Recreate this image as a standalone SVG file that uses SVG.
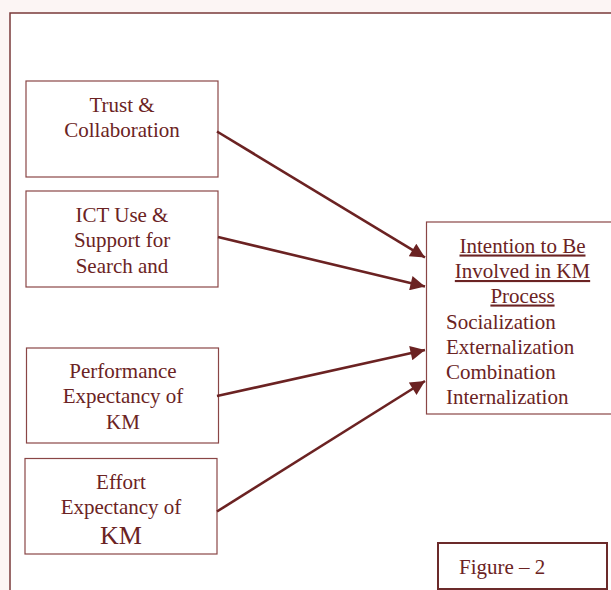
<svg xmlns="http://www.w3.org/2000/svg" width="611" height="590" viewBox="0 0 611 590">
<style>
.box{fill:#fff;stroke:#8a4646;stroke-width:1.2}
.t{font-family:"Liberation Serif","Times New Roman",serif;font-size:21px;fill:#6b2323}
.c{text-anchor:middle}
.u{text-decoration:underline}
.conn{stroke:#6b2222;stroke-width:2.6;fill:none;marker-end:url(#ah)}
</style>
<defs>
<marker id="ah" viewBox="0 0 10 10" refX="10" refY="5" markerWidth="6.8" markerHeight="5.6" markerUnits="strokeWidth" orient="auto">
<path d="M0,0 L10,5 L0,10 Z" fill="#6b2222"/>
</marker>
</defs>
<rect x="0" y="0" width="611" height="590" fill="#fcf5f4"/>
<rect x="10" y="13" width="620" height="600" fill="#fff" stroke="#7a3a3a" stroke-width="1.5"/>
<g id="n1">
<rect class="box" x="26" y="81" width="192" height="96"/>
<text class="t c" x="122" y="111.5">Trust &amp;</text>
<text class="t c" x="122" y="137">Collaboration</text>
</g>
<g id="n2">
<rect class="box" x="26" y="191" width="192" height="96"/>
<text class="t c" x="122" y="221.5">ICT Use &amp;</text>
<text class="t c" x="122" y="247">Support for</text>
<text class="t c" x="122" y="272.5">Search and</text>
</g>
<g id="n3">
<rect class="box" x="26.5" y="348" width="192" height="95"/>
<text class="t c" x="123" y="377.5">Performance</text>
<text class="t c" x="123" y="403">Expectancy of</text>
<text class="t c" x="123" y="428.5">KM</text>
</g>
<g id="n4">
<rect class="box" x="25" y="458.5" width="192" height="95.5"/>
<text class="t c" x="121" y="488.5">Effort</text>
<text class="t c" x="121" y="513.5">Expectancy of</text>
<text class="t c" x="121" y="544" style="font-size:26px">KM</text>
</g>
<g id="target">
<rect class="box" x="426.5" y="222" width="200" height="192"/>
<text class="t c u" x="522.5" y="252.5">Intention to Be</text>
<text class="t c u" x="522.5" y="278">Involved in KM</text>
<text class="t c u" x="522.5" y="302.5">Process</text>
<text class="t" x="446" y="328.5">Socialization</text>
<text class="t" x="446" y="353.5">Externalization</text>
<text class="t" x="446" y="378.5">Combination</text>
<text class="t" x="446" y="403.5">Internalization</text>
</g>
<g id="fig">
<rect x="438" y="543" width="169" height="46" fill="#fff" stroke="#6b2a2a" stroke-width="2"/>
<text class="t" x="459" y="574">Figure – 2</text>
</g>
<g id="connectors">
<line class="conn" x1="217" y1="131.5" x2="425" y2="257.5"/>
<line class="conn" x1="218" y1="237" x2="425" y2="286.5"/>
<line class="conn" x1="217" y1="396" x2="425" y2="350"/>
<line class="conn" x1="217" y1="511.5" x2="425" y2="381"/>
</g>
</svg>
